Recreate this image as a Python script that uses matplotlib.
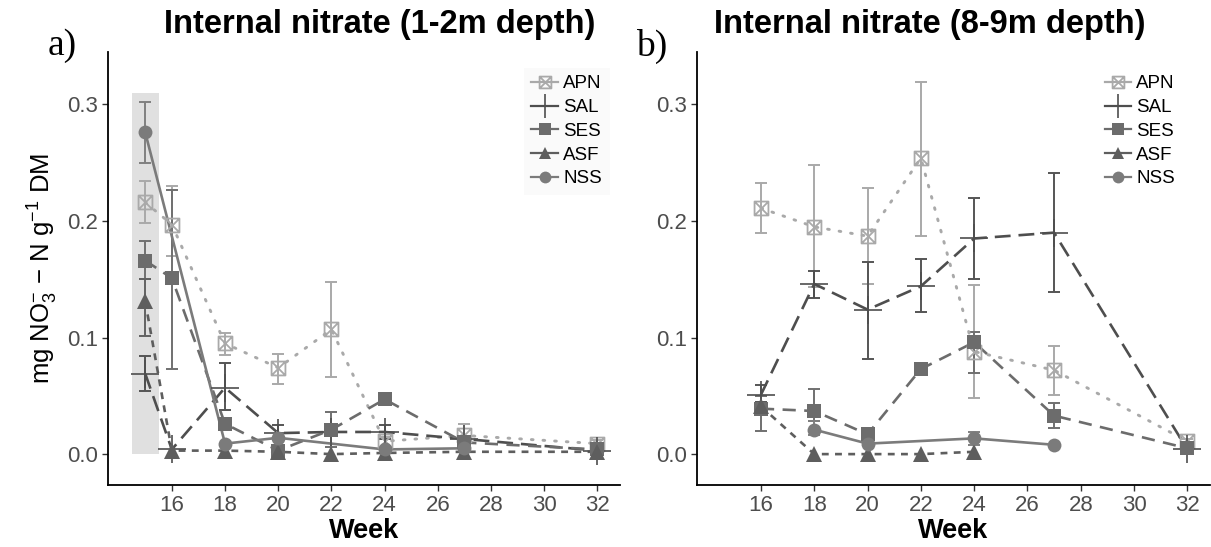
import numpy as np
import matplotlib
matplotlib.use("Agg")
import matplotlib.pyplot as plt
from matplotlib.lines import Line2D
from matplotlib.path import Path

plt.rcParams["font.family"] = ["Liberation Sans", "DejaVu Sans"]
plt.rcParams["mathtext.fontset"] = "custom"
plt.rcParams["mathtext.rm"] = "Liberation Sans"
plt.rcParams["mathtext.it"] = "Liberation Sans:italic"
plt.rcParams["mathtext.bf"] = "Liberation Sans:bold"

nan = np.nan

# ---- panel a) 1-2 m depth ----
APN_a_wk = [15, 16, 18, 20, 22, 24, 27, 32]
APN_a = [0.216, 0.197, 0.095, 0.074, 0.107, 0.011, 0.016, 0.009]
APN_a_lo = [0.198, 0.170, 0.085, 0.060, 0.066, 0.006, 0.003, 0.006]
APN_a_hi = [0.234, 0.230, 0.104, 0.086, 0.148, 0.015, 0.026, 0.012]

SAL_a_wk = [15, 16, 18, 20, 22, 24, 27, 32]
SAL_a = [0.069, 0.004, 0.057, 0.018, 0.019, 0.019, 0.013, 0.003]
SAL_a_lo = [0.054, nan, 0.038, 0.012, nan, 0.013, nan, nan]
SAL_a_hi = [0.084, nan, 0.078, 0.025, nan, 0.025, nan, nan]

SES_a_wk = [15, 16, 18, 20, 22, 24, 27, 32]
SES_a = [0.166, 0.151, 0.026, 0.003, 0.021, 0.047, 0.010, 0.004]
SES_a_lo = [0.150, 0.073, nan, nan, 0.006, 0.044, nan, nan]
SES_a_hi = [0.183, 0.227, nan, nan, 0.036, 0.051, nan, nan]

ASF_a_wk = [15, 16, 18, 20, 22, 24, 27, 32]
ASF_a = [0.131, 0.003, 0.003, 0.002, 0.000, 0.001, 0.002, 0.002]
ASF_a_lo = [0.101, nan, nan, nan, nan, nan, nan, nan]
ASF_a_hi = [0.150, nan, nan, nan, nan, nan, nan, nan]

NSS_a_wk = [15, 18, 20, 24, 27]
NSS_a = [0.276, 0.009, 0.014, 0.004, 0.005]
NSS_a_lo = [0.250, nan, nan, nan, nan]
NSS_a_hi = [0.302, nan, nan, nan, nan]

# ---- panel b) 8-9 m depth ----
APN_b_wk = [16, 18, 20, 22, 24, 27, 32]
APN_b = [0.211, 0.195, 0.187, 0.254, 0.088, 0.072, 0.011]
APN_b_lo = [0.190, 0.143, 0.146, 0.187, 0.048, 0.051, 0.009]
APN_b_hi = [0.233, 0.248, 0.228, 0.319, 0.145, 0.093, 0.013]

SAL_b_wk = [16, 18, 20, 22, 24, 27, 32]
SAL_b = [0.051, 0.146, 0.124, 0.144, 0.185, 0.190, 0.004]
SAL_b_lo = [0.045, 0.134, 0.082, 0.122, 0.150, 0.139, nan]
SAL_b_hi = [0.059, 0.157, 0.165, 0.167, 0.220, 0.241, nan]

SES_b_wk = [16, 18, 20, 22, 24, 27, 32]
SES_b = [0.039, 0.037, 0.017, 0.073, 0.096, 0.033, 0.005]
SES_b_lo = [0.020, 0.028, 0.014, nan, 0.070, 0.022, nan]
SES_b_hi = [0.050, 0.056, 0.020, nan, 0.105, 0.044, nan]

ASF_b_wk = [16, 18, 20, 22, 24]
ASF_b = [0.041, 0.000, 0.000, 0.000, 0.002]
ASF_b_lo = [nan, nan, nan, nan, nan]
ASF_b_hi = [nan, nan, nan, nan, nan]

NSS_b_wk = [18, 20, 24, 27]
NSS_b = [0.021, 0.009, 0.0135, 0.008]
NSS_b_lo = [0.016, nan, 0.008, nan]
NSS_b_hi = [0.028, nan, 0.019, nan]

series_names = ["APN", "SAL", "SES", "ASF", "NSS"]
week_ticks = [16, 18, 20, 22, 24, 26, 28, 30, 32]
y_ticks = [0.0, 0.1, 0.2, 0.3]

# square with a cross, like ggplot shape 7
_sq = Path(
    [(-1, -1), (1, -1), (1, 1), (-1, 1), (-1, -1), (-1, -1), (1, 1), (-1, 1), (1, -1)],
    [Path.MOVETO, Path.LINETO, Path.LINETO, Path.LINETO, Path.CLOSEPOLY,
     Path.MOVETO, Path.LINETO, Path.MOVETO, Path.LINETO],
)

style = {
    "APN": dict(color="#a9a9a9", ls=(0, (0.6, 3.4)), marker=_sq, ms=10, lw=2.1, mfc="none", mew=1.3),
    "SAL": dict(color="#4e4e4e", ls=(0, (6, 3)), marker="+", ms=20, lw=1.9, mfc="#4e4e4e", mew=1.2),
    "SES": dict(color="#6c6c6c", ls=(0, (5, 3.2)), marker="s", ms=9.5, lw=1.9, mfc="#6c6c6c", mew=0),
    "ASF": dict(color="#5e5e5e", ls=(0, (2.6, 2.4)), marker="^", ms=11, lw=1.9, mfc="#5e5e5e", mew=0),
    "NSS": dict(color="#7b7b7b", ls="-", marker="o", ms=10, lw=1.9, mfc="#7b7b7b", mew=0),
}
err_col = {"APN": "#a9a9a9", "SAL": "#555555", "SES": "#707070", "ASF": "#626262", "NSS": "#808080"}

panels = {
    "a": {
        "APN": (APN_a_wk, APN_a, APN_a_lo, APN_a_hi),
        "SAL": (SAL_a_wk, SAL_a, SAL_a_lo, SAL_a_hi),
        "SES": (SES_a_wk, SES_a, SES_a_lo, SES_a_hi),
        "ASF": (ASF_a_wk, ASF_a, ASF_a_lo, ASF_a_hi),
        "NSS": (NSS_a_wk, NSS_a, NSS_a_lo, NSS_a_hi),
    },
    "b": {
        "APN": (APN_b_wk, APN_b, APN_b_lo, APN_b_hi),
        "SAL": (SAL_b_wk, SAL_b, SAL_b_lo, SAL_b_hi),
        "SES": (SES_b_wk, SES_b, SES_b_lo, SES_b_hi),
        "ASF": (ASF_b_wk, ASF_b, ASF_b_lo, ASF_b_hi),
        "NSS": (NSS_b_wk, NSS_b, NSS_b_lo, NSS_b_hi),
    },
}

W, H = 1211, 547
fig = plt.figure(figsize=(W / 100, H / 100), dpi=100)
ax1 = fig.add_axes([108 / W, 62 / H, 512 / W, 433 / H])
ax2 = fig.add_axes([697 / W, 62 / H, 513 / W, 433 / H])


def draw_panel(ax, data):
    for name in series_names:
        wk, val, lo, hi = (np.asarray(v, dtype=float) for v in data[name])
        st = style[name]
        has = ~np.isnan(lo)
        if has.any():
            ax.errorbar(wk[has], val[has], yerr=[val[has] - lo[has], hi[has] - val[has]],
                        fmt="none", ecolor=err_col[name], elinewidth=1.4, capsize=4,
                        capthick=1.4, zorder=2)
        ax.plot(wk, val, color=st["color"], ls=st["ls"], lw=st["lw"],
                dash_capstyle="round" if name == "APN" else "butt", zorder=3)
        ax.plot(wk, val, ls="none", marker=st["marker"], ms=st["ms"], mfc=st["mfc"],
                mec=st["color"], mew=st["mew"], zorder=4)


def style_axes(ax):
    ax.set_xlim(13.6, 32.85)
    ax.set_ylim(-0.0265, 0.345)
    ax.set_xticks(week_ticks)
    ax.set_yticks(y_ticks)
    ax.set_yticklabels([f"{t:.1f}" for t in y_ticks])
    for s in ["top", "right"]:
        ax.spines[s].set_visible(False)
    for s in ["left", "bottom"]:
        ax.spines[s].set_linewidth(1.3)
        ax.spines[s].set_color("black")
    ax.tick_params(axis="both", length=4, width=1.0, color="#333333",
                   labelcolor="#4d4d4d", labelsize=16, pad=3)
    ax.set_xlabel("Week", fontsize=19.5, fontweight="bold", labelpad=2)
    handles = []
    for name in series_names:
        st = style[name]
        handles.append(Line2D([0], [0], color=st["color"], lw=1.6, marker=st["marker"],
                              ms=st["ms"] * 0.85, mfc=st["mfc"], mec=st["color"],
                              mew=st["mew"], label=name))
    return handles


# grey highlight of week 15 in panel a
ax1.fill_between([14.5, 15.5], 0, 0.31, color="#e0e0e0", lw=0, zorder=0)

draw_panel(ax1, panels["a"])
draw_panel(ax2, panels["b"])

h1 = style_axes(ax1)
h2 = style_axes(ax2)
ax1.legend(handles=h1, loc="upper right", bbox_to_anchor=(0.998, 0.985), frameon=True,
           facecolor="#f9f9f9", edgecolor="none", fancybox=False, fontsize=13.5,
           handlelength=1.4, handletextpad=0.3, labelspacing=0.35, borderpad=0.4)
ax2.legend(handles=h2, loc="upper right", bbox_to_anchor=(0.965, 0.985), frameon=False,
           fontsize=13.5, handlelength=1.4, handletextpad=0.3, labelspacing=0.35)

ax1.set_ylabel("mg NO$_3^{-}$ \u2212 N g$^{-1}$ DM", fontsize=18.5, labelpad=5)

fig.text(380 / W, 1 - 25 / H, "Internal nitrate (1-2m depth)", ha="center", va="center",
         fontsize=23.5, fontweight="bold")
fig.text(930 / W, 1 - 25 / H, "Internal nitrate (8-9m depth)", ha="center", va="center",
         fontsize=23.5, fontweight="bold")
fig.text(48 / W, 1 - 46 / H, "a)", ha="left", va="center", fontsize=27,
         family=["Liberation Serif", "DejaVu Serif"])
fig.text(636 / W, 1 - 46 / H, "b)", ha="left", va="center", fontsize=27,
         family=["Liberation Serif", "DejaVu Serif"])

fig.savefig("out.png", dpi=100)
